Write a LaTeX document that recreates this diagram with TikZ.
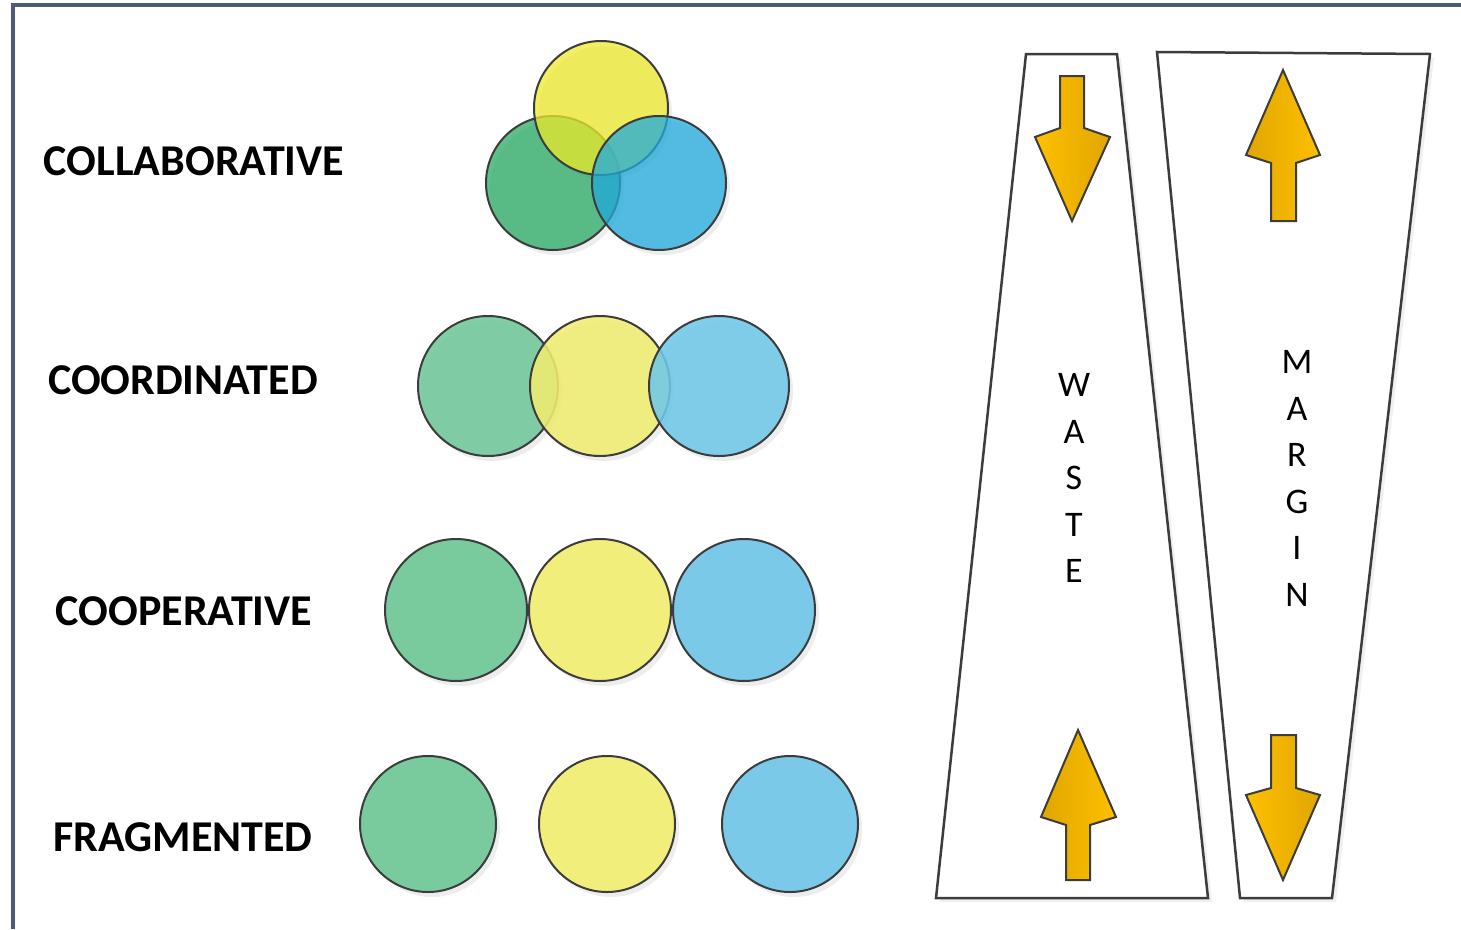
\documentclass[tikz,border=0pt]{standalone}
\usepackage{fontspec}
\setmainfont{Carlito}
\definecolor{framecol}{HTML}{4D5B78}
\definecolor{edgecol}{HTML}{3C3C3C}
\definecolor{cgreen}{HTML}{27AA63}
\definecolor{cyellow}{HTML}{EDEB2B}
\definecolor{cblue}{HTML}{20ABDD}
\definecolor{lgreen}{HTML}{79CB9E}
\definecolor{lyellow}{HTML}{F1EE7C}
\definecolor{lblue}{HTML}{7AC9E8}
\definecolor{dgreen}{HTML}{70C79A}
\definecolor{dyellow}{HTML}{F0ED70}
\definecolor{dblue}{HTML}{70C8E8}
\definecolor{arrbright}{HTML}{FFC000}
\definecolor{arrdark}{HTML}{E0A600}
\begin{document}
\begin{tikzpicture}[x=1pt,y=-1pt,
  lbl/.style={font=\fontsize{44}{50}\selectfont\bfseries, inner sep=0pt, anchor=base},
  letter/.style={font=\fontsize{36}{40}\selectfont, inner sep=0pt, anchor=base},
  disc/.style={circle, draw=edgecol, line width=2pt, inner sep=0pt, minimum size=#1},
  shadowdisc/.style={circle, fill=black, fill opacity=0.07, inner sep=0pt, minimum size=#1},
  band/.style={draw=edgecol, line width=2.5pt, line join=miter, fill=white},
  downarrow/.style={draw=edgecol, line width=2pt, left color=arrbright, right color=arrdark},
  uparrow/.style={draw=edgecol, line width=2pt, left color=arrdark, right color=arrbright},
  frameline/.style={draw=framecol, line width=3.5pt}]
\useasboundingbox (0,0) rectangle (1461,929);
\fill[white] (0,0) rectangle (1461,929);
\draw[frameline] (13,929) -- (13,5) -- (1461,5);

% labels
\node[lbl] (collab) at (194,175) {COLLABORATIVE};
\node[lbl] (coord) at (183,394) {COORDINATED};
\node[lbl] (coop) at (184,625) {COOPERATIVE};
\node[lbl] (frag) at (183,851) {FRAGMENTED};

% shadows
\foreach \cx/\cy/\r in {553/183/134, 601/108/134, 659/183/134,
  488/386/140, 600/386/140, 719/386/140,
  456/610/142, 600/610/142, 744/610/142,
  428/824/136, 607/824/136, 790/824/136}
  \node[shadowdisc=\r] at (\cx+4,\cy+5) {};

% collaborative
\node[disc=134, fill=cgreen, fill opacity=0.75] (cgr) at (553,183) {};
\node[disc=134, fill=cyellow, fill opacity=0.75] (cye) at (601,108) {};
\node[disc=134, fill=cblue, fill opacity=0.75] (cbl) at (659,183) {};

% coordinated
\node[disc=140, fill=dgreen, fill opacity=0.88] (dgr) at (488,386) {};
\node[disc=140, fill=dyellow, fill opacity=0.88] (dye) at (600,386) {};
\node[disc=140, fill=dblue, fill opacity=0.88] (dbl) at (719,386) {};

% cooperative
\node[disc=142, fill=lgreen] (pgr) at (456,610) {};
\node[disc=142, fill=lyellow] (pye) at (600,610) {};
\node[disc=142, fill=lblue] (pbl) at (744,610) {};

% fragmented
\node[disc=136, fill=lgreen] (fgr) at (428,824) {};
\node[disc=136, fill=lyellow] (fye) at (607,824) {};
\node[disc=136, fill=lblue] (fbl) at (790,824) {};

% bands
\coordinate (wtl) at (1026,54);
\coordinate (wtr) at (1117,54);
\coordinate (wbr) at (1208,898);
\coordinate (wbl) at (936,898);
\coordinate (mtl) at (1157,52);
\coordinate (mtr) at (1430,54);
\coordinate (mbr) at (1332,898);
\coordinate (mbl) at (1240,898);
\fill[black, opacity=0.06] ([shift={(4,4)}]wtl) -- ([shift={(4,4)}]wtr) -- ([shift={(4,4)}]wbr) -- ([shift={(4,4)}]wbl) -- cycle;
\fill[black, opacity=0.06] ([shift={(4,4)}]mtl) -- ([shift={(4,4)}]mtr) -- ([shift={(4,4)}]mbr) -- ([shift={(4,4)}]mbl) -- cycle;
\path[band] (wtl) -- (wtr) -- (wbr) -- (wbl) -- cycle;
\path[band] (mtl) -- (mtr) -- (mbr) -- (mbl) -- cycle;

% arrows
\path[downarrow] (1060,76) -- (1084,76) -- (1084,128) -- (1110,137) -- (1072,221) -- (1035,137) -- (1060,128) -- cycle;
\path[uparrow] (1283,70) -- (1320,155) -- (1296,163) -- (1296,221) -- (1271,221) -- (1271,163) -- (1246,155) -- cycle;
\path[uparrow] (1078,730) -- (1116,817) -- (1090,825) -- (1090,880) -- (1066,880) -- (1066,825) -- (1041,817) -- cycle;
\path[downarrow] (1271,735) -- (1296,735) -- (1296,788) -- (1320,795) -- (1283,880) -- (1246,795) -- (1271,788) -- cycle;

% vertical words
\node[letter] (w1) at (1074,396.5) {W};
\node[letter] (w2) at (1074,443) {A};
\node[letter] (w3) at (1074,489.5) {S};
\node[letter] (w4) at (1074,536) {T};
\node[letter] (w5) at (1074,582.5) {E};
\node[letter] (m1) at (1297,373.5) {M};
\node[letter] (m2) at (1297,420) {A};
\node[letter] (m3) at (1297,466.5) {R};
\node[letter] (m4) at (1297,513) {G};
\node[letter] (m5) at (1297,559.5) {I};
\node[letter] (m6) at (1297,606) {N};
\end{tikzpicture}
\end{document}
